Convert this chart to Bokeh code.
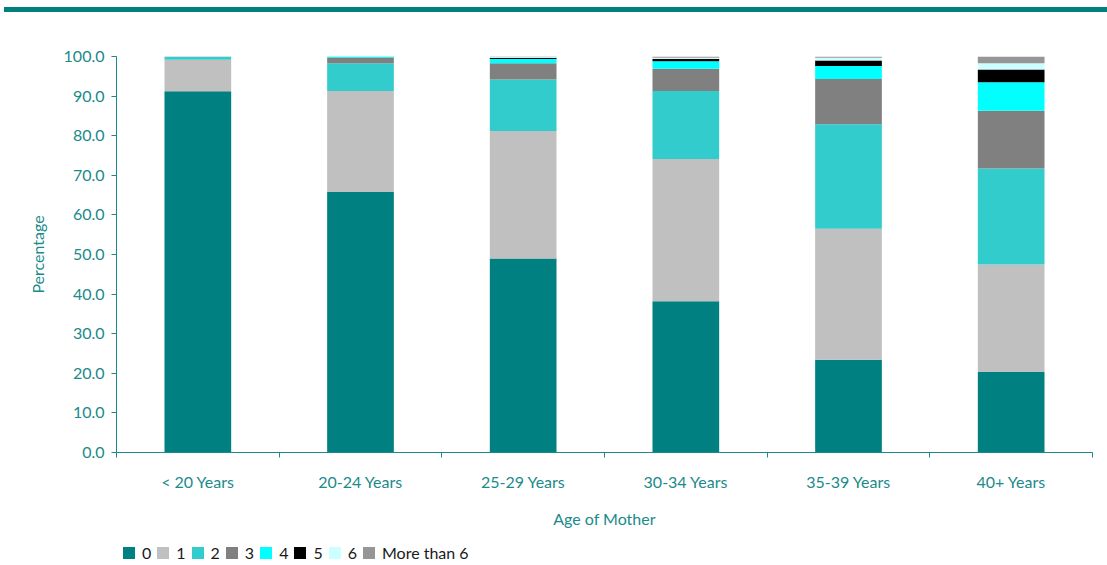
from bokeh.plotting import figure
from bokeh.models import (FixedTicker, Legend, LegendItem, Div, ColumnDataSource,
                          NumeralTickFormatter, Range1d)
from bokeh.layouts import column
from bokeh.embed import file_html
from bokeh.resources import INLINE

categories = ["< 20 Years", "20-24 Years", "25-29 Years", "30-34 Years", "35-39 Years", "40+ Years"]
series_names = ["0", "1", "2", "3", "4", "5", "6", "More than 6"]
s0 = [91.2, 65.8, 49.0, 38.2, 23.4, 20.3]
s1 = [8.0, 25.5, 32.2, 35.9, 33.1, 27.2]
s2 = [0.7, 7.0, 13.0, 17.2, 26.4, 24.2]
s3 = [0.1, 1.3, 4.1, 5.6, 11.4, 14.6]
s4 = [0.0, 0.3, 1.1, 1.9, 3.3, 7.2]
s5 = [0.0, 0.05, 0.3, 0.6, 1.4, 3.2]
s6 = [0.0, 0.05, 0.2, 0.3, 0.7, 1.6]
s7 = [0.0, 0.0, 0.1, 0.3, 0.3, 1.7]
colors = ["#008080", "#c0c0c0", "#33cccc", "#808080", "#00ffff", "#000000", "#ccffff", "#969696"]

TEAL = "#1a8a8a"
FONT = "Lato"

xpos = [i + 0.5 for i in range(len(categories))]
data = {"x": xpos}
for name, vals in zip(series_names, [s0, s1, s2, s3, s4, s5, s6, s7]):
    data[name] = vals
source = ColumnDataSource(data)

p = figure(width=1100, height=518, output_backend="svg", toolbar_location=None,
           x_range=Range1d(0, len(categories)), y_range=Range1d(0, 100),
           min_border_left=116, min_border_right=8, min_border_top=44, min_border_bottom=76)
p.outline_line_color = None
p.xgrid.visible = False
p.ygrid.visible = False

renderers = p.vbar_stack(series_names, x="x", width=0.41, source=source,
                         color=colors, line_color=None)

# x axis
xa = p.xaxis[0]
xa.ticker = FixedTicker(ticks=xpos, minor_ticks=list(range(len(categories) + 1)))
xa.major_label_overrides = {x: c for x, c in zip(xpos, categories)}
xa.major_tick_line_color = None
xa.major_tick_out = 5
xa.major_tick_in = 0
xa.minor_tick_out = 5
xa.minor_tick_in = 0
xa.minor_tick_line_color = TEAL
xa.axis_line_color = TEAL
xa.major_label_standoff = 14
xa.major_label_text_color = TEAL
xa.major_label_text_font = FONT
xa.major_label_text_font_size = "16px"
xa.axis_label = "Age of Mother"
xa.axis_label_text_color = TEAL
xa.axis_label_text_font = FONT
xa.axis_label_text_font_size = "16px"
xa.axis_label_text_font_style = "normal"
xa.axis_label_standoff = 15

# y axis
ya = p.yaxis[0]
ya.ticker = FixedTicker(ticks=list(range(0, 101, 10)), minor_ticks=[])
ya.formatter = NumeralTickFormatter(format="0.0")
ya.major_tick_out = 5
ya.major_tick_in = 0
ya.major_tick_line_color = TEAL
ya.axis_line_color = TEAL
ya.major_label_standoff = 7
ya.major_label_text_color = TEAL
ya.major_label_text_font = FONT
ya.major_label_text_font_size = "16px"
ya.axis_label = "Percentage"
ya.axis_label_text_color = TEAL
ya.axis_label_text_font = FONT
ya.axis_label_text_font_size = "16px"
ya.axis_label_text_font_style = "normal"
ya.axis_label_standoff = 14

# legend in its own strip below the chart (hidden swatch renderers supply the legend glyphs)
lg = figure(width=1100, height=35, output_backend="svg", toolbar_location=None,
            x_range=Range1d(0, 1), y_range=Range1d(0, 1),
            x_axis_location=None, y_axis_location=None,
            min_border_left=0, min_border_right=0, min_border_top=0, min_border_bottom=0)
lg.outline_line_color = None
lg.xgrid.visible = False
lg.ygrid.visible = False
swatches = [lg.vbar(x=[50], top=[50], bottom=[40], width=0.1, color=c, line_color=None,
                    visible=False) for c in colors]
items = [LegendItem(label=n, renderers=[r]) for n, r in zip(series_names, swatches)]
legend = Legend(items=items, orientation="horizontal", location=(5, 3),
                glyph_width=15, glyph_height=15, label_standoff=6, spacing=4,
                padding=0, margin=0, border_line_color=None, background_fill_alpha=0,
                label_height=15, label_width=0, inactive_fill_alpha=0,
                label_text_font=FONT, label_text_font_size="16px", label_text_color="#1a1a1a")
lg.add_layout(legend)

rule = Div(width=1103, height=5, styles={"background-color": "#007f7f"}, margin=(7, 0, 0, 4))

layout = column(rule, p, lg, spacing=0)
open("out.html", "w").write(file_html(layout, INLINE))
